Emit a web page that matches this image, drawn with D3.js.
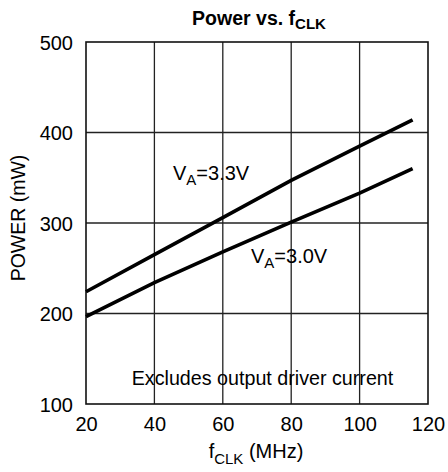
<!DOCTYPE html>
<html><head><meta charset="utf-8">
<script src="https://cdn.jsdelivr.net/npm/d3@7/dist/d3.min.js"></script>
<style>
body{margin:0;background:#fff;}
svg{display:block;font-family:"Liberation Sans",Arial,Helvetica,sans-serif;}
</style></head>
<body>
<script>
const xTicks = [20, 40, 60, 80, 100, 120];
const yTicks = [100, 200, 300, 400, 500];
const freq33 = [20, 40, 60, 80, 100, 115.5];
const power33 = [224, 265, 306, 347, 385, 414];
const freq30 = [20, 40, 60, 80, 100, 115.5];
const power30 = [196.5, 234, 268, 301, 333, 360];

const W = 448, H = 472;
const m = {left: 86, right: 20, top: 42, bottom: 68};
const svg = d3.select("body").append("svg").attr("width", W).attr("height", H);

const x = d3.scaleLinear().domain([20, 120]).range([m.left, W - m.right]);
const y = d3.scaleLinear().domain([100, 500]).range([H - m.bottom, m.top]);

// grid
svg.append("g").selectAll("line").data(xTicks.slice(1, -1)).join("line")
  .attr("x1", d => x(d)).attr("x2", d => x(d))
  .attr("y1", y(500)).attr("y2", y(100))
  .attr("stroke", "#222").attr("stroke-width", 1.3);
svg.append("g").selectAll("line").data(yTicks.slice(1, -1)).join("line")
  .attr("y1", d => y(d)).attr("y2", d => y(d))
  .attr("x1", x(20)).attr("x2", x(120))
  .attr("stroke", "#222").attr("stroke-width", 1.3);
// frame
svg.append("rect").attr("x", x(20)).attr("y", y(500))
  .attr("width", x(120) - x(20)).attr("height", y(100) - y(500))
  .attr("fill", "none").attr("stroke", "#111").attr("stroke-width", 1.6);

// axes labels via d3 axes (no tick lines)
const xAxis = svg.append("g").attr("transform", `translate(0,${y(100)})`)
  .call(d3.axisBottom(x).tickValues(xTicks).tickSize(0).tickPadding(0));
xAxis.select(".domain").remove();
xAxis.attr("font-family", null).attr("font-size", 20);
xAxis.selectAll("text").attr("y", 27).attr("dy", 0).attr("fill", "#000");

const yAxis = svg.append("g").attr("transform", `translate(${x(20)},0)`)
  .call(d3.axisLeft(y).tickValues(yTicks).tickSize(0).tickPadding(13));
yAxis.select(".domain").remove();
yAxis.attr("font-family", null).attr("font-size", 20);
yAxis.selectAll("text").attr("dy", "0.36em").attr("fill", "#000");

// curves
const line = d3.line().x(d => x(d[0])).y(d => y(d[1]));
svg.append("path").datum(d3.zip(freq33, power33)).attr("d", line)
  .attr("fill", "none").attr("stroke", "#000").attr("stroke-width", 3.6);
svg.append("path").datum(d3.zip(freq30, power30)).attr("d", line)
  .attr("fill", "none").attr("stroke", "#000").attr("stroke-width", 3.6);

// title
const t = svg.append("text").attr("x", 259).attr("y", 25).attr("text-anchor", "middle")
  .attr("font-weight", "bold").attr("font-size", 19.5);
t.append("tspan").text("Power vs. f");
t.append("tspan").attr("font-size", 15).attr("dy", 4).text("CLK");

// x label
const xl = svg.append("text").attr("x", 256).attr("y", 458).attr("text-anchor", "middle").attr("font-size", 20);
xl.append("tspan").text("f");
xl.append("tspan").attr("font-size", 15).attr("dy", 6).text("CLK");
xl.append("tspan").attr("dy", -6).text(" (MHz)");

// y label
svg.append("text").attr("transform", "translate(25,218) rotate(-90)")
  .attr("text-anchor", "middle").attr("font-size", 19.5).text("POWER (mW)");

// series labels
function vlabel(px, py, val) {
  const g = svg.append("text").attr("x", px).attr("y", py).attr("font-size", 20);
  g.append("tspan").text("V");
  g.append("tspan").attr("font-size", 15).attr("dy", 5).text("A");
  g.append("tspan").attr("dy", -5).text("=" + val);
}
vlabel(173, 180, "3.3V");
vlabel(251, 263, "3.0V");

// note
svg.append("text").attr("x", 262.5).attr("y", 385).attr("text-anchor", "middle")
  .attr("font-size", 19.7).text("Excludes output driver current");
</script>
</body></html>
